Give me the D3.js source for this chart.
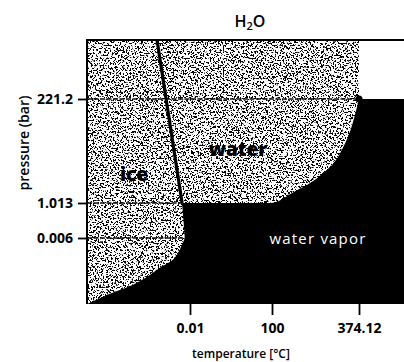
<!DOCTYPE html>
<html>
<head>
<meta charset="utf-8">
<script src="https://cdn.jsdelivr.net/npm/d3@7"></script>
<style>
  body { margin: 0; background: #fff; }
  svg { display: block; font-family: "Open Sans", "DejaVu Sans", sans-serif; }
</style>
</head>
<body>
<div class="chart"></div>
<script>
// axis ticks
const tempTicks = [0.01, 100, 374.12];
const pressTicks = [0.006, 1.013, 221.2];
const tempRange = [-60, 450];
const pressRange = [0, 500];

// sublimation curve (ice / vapor)
const sublTemp = [-60, -47, -29, -17.5, -7.5, -3];
const sublPress = [0, 0.0009, 0.0021, 0.0033, 0.0045, 0.006];

// melting line (ice / water)
const meltTemp = [-3, -4.6, -19.2];
const meltPress = [0.006, 1.013, 500];

// vaporization curve (water / vapor) up to the critical point
const vapTemp = [-4.6, 98, 170, 250, 315, 352, 374.12];
const vapPress = [1.013, 1.013, 25, 58, 107, 165, 221.2];

// where the dashed pressure lines stop
const gridEnd = [-3, -4.6, 374.12];

const width = 404, height = 362;

const svg = d3.select(".chart").append("svg")
  .attr("width", width)
  .attr("height", height);

const x = d3.scaleLinear()
  .domain([tempRange[0], ...tempTicks, tempRange[1]])
  .range([87, 190, 272, 359, 404]);

const y = d3.scaleLinear()
  .domain([pressRange[0], ...pressTicks, pressRange[1]])
  .range([304, 238, 203, 99, 40]);

const zip = (a, b) => a.map((d, i) => [d, b[i]]);
const subl = zip(sublTemp, sublPress);
const melt = zip(meltTemp, meltPress);
const vap = zip(vapTemp, vapPress);
const crit = vap[vap.length - 1];

// speckle texture for the condensed phases
const defs = svg.append("defs");
const gx0 = x(tempRange[0]), gx1 = x(crit[0]), gy0 = y(pressRange[1]), gy1 = y(pressRange[0]);
const f = defs.append("filter")
  .attr("id", "speckle")
  .attr("filterUnits", "userSpaceOnUse")
  .attr("x", gx0).attr("y", gy0)
  .attr("width", gx1 - gx0).attr("height", gy1 - gy0)
  .attr("color-interpolation-filters", "sRGB");
f.append("feTurbulence")
  .attr("type", "fractalNoise")
  .attr("baseFrequency", 0.6)
  .attr("numOctaves", 2)
  .attr("seed", 7);
f.append("feColorMatrix")
  .attr("type", "matrix")
  .attr("values", "1 0 0 0 0  1 0 0 0 0  1 0 0 0 0  0 0 0 0 1");
const ct = f.append("feComponentTransfer");
["feFuncR", "feFuncG", "feFuncB"].forEach(fn =>
  ct.append(fn).attr("type", "linear").attr("slope", 25).attr("intercept", -10.6));

svg.append("rect")
  .attr("x", gx0).attr("y", gy0)
  .attr("width", gx1 - gx0).attr("height", gy1 - gy0)
  .attr("fill", "#bbb")
  .attr("filter", "url(#speckle)");

// vapor region
const lin = d3.line().x(d => x(d[0])).y(d => y(d[1]));
const mono = d3.line().x(d => x(d[0])).y(d => y(d[1])).curve(d3.curveMonotoneX);
const join = s => s.replace(/^M/, "L");
const vaporPath =
  mono(subl) +
  join(lin(melt.slice(0, 2))) +
  join(mono(vap)) +
  join(lin([crit, [tempRange[1], crit[1]], [tempRange[1], pressRange[0]]])) + "Z";

svg.append("path")
  .attr("d", vaporPath)
  .attr("fill", "#000");

// pressure lines
svg.append("g")
  .selectAll("line")
  .data(pressTicks)
  .join("line")
  .attr("x1", x(tempRange[0]))
  .attr("x2", (d, i) => x(gridEnd[i]))
  .attr("y1", d => y(d))
  .attr("y2", d => y(d))
  .attr("stroke", "#111")
  .attr("stroke-width", 1.6)
  .attr("stroke-dasharray", "5,1.5");

// melting line
svg.append("path")
  .attr("d", lin(melt.slice(1)))
  .attr("fill", "none")
  .attr("stroke", "#000")
  .attr("stroke-width", 3.2);

// critical point
svg.append("circle")
  .attr("cx", x(crit[0]))
  .attr("cy", y(crit[1]))
  .attr("r", 3.5)
  .attr("fill", "#000");

// frame: top and left
svg.append("path")
  .attr("d", `M${x(tempRange[1])},${y(pressRange[1])}H${x(tempRange[0])}V${y(pressRange[0])}`)
  .attr("fill", "none")
  .attr("stroke", "#000")
  .attr("stroke-width", 2);

// axes
const yAxis = g => g
  .attr("transform", `translate(${x(tempRange[0])},0)`)
  .call(d3.axisLeft(y).tickValues(pressTicks).tickSize(9).tickPadding(5).tickFormat(d => String(d)))
  .call(g => g.select(".domain").remove())
  .call(g => g.selectAll(".tick line").attr("stroke-width", 1.8))
  .call(g => g.selectAll(".tick text")
    .attr("font-size", 14).attr("font-weight", 700)
    .attr("font-family", "Open Sans").attr("fill", "#000"));

const xAxis = g => g
  .attr("transform", `translate(0,${y(pressRange[0])})`)
  .call(d3.axisBottom(x).tickValues(tempTicks).tickSize(11).tickPadding(8).tickFormat(d => String(d)))
  .call(g => g.select(".domain").remove())
  .call(g => g.selectAll(".tick line").attr("stroke-width", 1.8))
  .call(g => g.selectAll(".tick text")
    .attr("font-size", 14).attr("font-weight", 700)
    .attr("font-family", "Open Sans").attr("fill", "#000"));

svg.append("g").call(yAxis);
svg.append("g").call(xAxis);

// titles and labels
const title = svg.append("text")
  .attr("x", 250).attr("y", 27)
  .attr("text-anchor", "middle")
  .attr("font-size", 16).attr("font-weight", 600);
title.append("tspan").text("H");
title.append("tspan").attr("font-size", 11).attr("dy", 3).text("2");
title.append("tspan").attr("dy", -3).text("O");

svg.append("text")
  .attr("transform", "translate(29,143) rotate(-90)")
  .attr("text-anchor", "middle")
  .attr("font-size", 14).attr("font-weight", 600)
  .text("pressure (bar)");

svg.append("text")
  .attr("x", 241).attr("y", 358)
  .attr("text-anchor", "middle")
  .attr("font-size", 12).attr("font-weight", 600)
  .text("temperature [°C]");

svg.append("text")
  .attr("x", 134).attr("y", 181)
  .attr("text-anchor", "middle")
  .attr("font-size", 19).attr("font-weight", 800)
  .text("ice");

svg.append("text")
  .attr("x", 238).attr("y", 156)
  .attr("text-anchor", "middle")
  .attr("font-size", 19).attr("font-weight", 800)
  .text("water");

svg.append("text")
  .attr("x", 318).attr("y", 244)
  .attr("text-anchor", "middle")
  .attr("font-size", 15).attr("letter-spacing", 1.2)
  .attr("fill", "#fff")
  .text("water vapor");
</script>
</body>
</html>
